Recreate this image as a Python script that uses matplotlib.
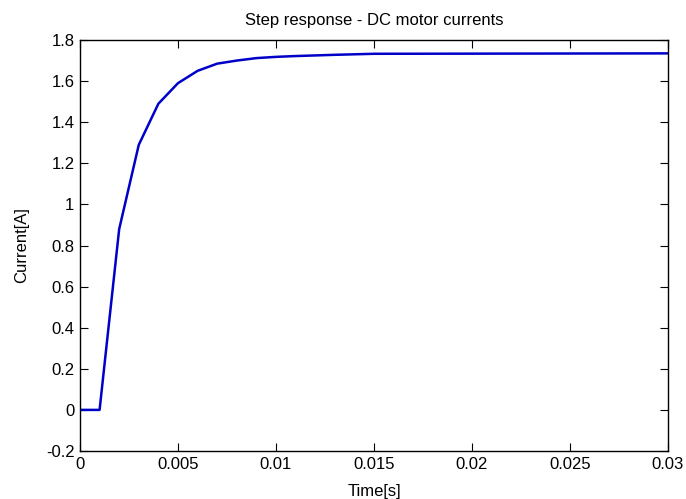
import matplotlib
matplotlib.use("Agg")
import matplotlib.pyplot as plt

time_s = [0, 0.001, 0.002, 0.003, 0.004, 0.005, 0.006, 0.007, 0.008, 0.009,
          0.010, 0.011, 0.012, 0.013, 0.015, 0.030]
current_a = [0, 0, 0.88, 1.29, 1.49, 1.59, 1.65, 1.685, 1.70, 1.712,
             1.718, 1.722, 1.725, 1.728, 1.733, 1.735]
xticks = [0, 0.005, 0.01, 0.015, 0.02, 0.025, 0.03]
xtick_labels = ["0", "0.005", "0.01", "0.015", "0.02", "0.025", "0.03"]
yticks = [-0.2, 0, 0.2, 0.4, 0.6, 0.8, 1, 1.2, 1.4, 1.6, 1.8]
ytick_labels = ["-0.2", "0", "0.2", "0.4", "0.6", "0.8", "1", "1.2", "1.4", "1.6", "1.8"]

plt.rcParams['font.family'] = ['Liberation Sans', 'DejaVu Sans']

fig = plt.figure(figsize=(6.86, 4.99), dpi=100)
ax = fig.add_axes([0.1166, 0.0962, 0.857, 0.8236])
ax.plot(time_s, current_a, color='#0000c8', linewidth=1.8)
ax.set_xlim(0, 0.03)
ax.set_ylim(-0.2, 1.8)
ax.set_xticks(xticks)
ax.set_xticklabels(xtick_labels)
ax.set_yticks(yticks)
ax.set_yticklabels(ytick_labels)
ax.tick_params(direction='in', top=True, right=True, labelsize=12, length=6, pad=4)
ax.set_title("Step response - DC motor currents", fontsize=12, pad=11)
ax.set_xlabel("Time[s]", fontsize=12, labelpad=9)
ax.set_ylabel("Current[A]", fontsize=12, labelpad=12)
for s in ax.spines.values():
    s.set_linewidth(1)
fig.savefig("out.png", dpi=100)
